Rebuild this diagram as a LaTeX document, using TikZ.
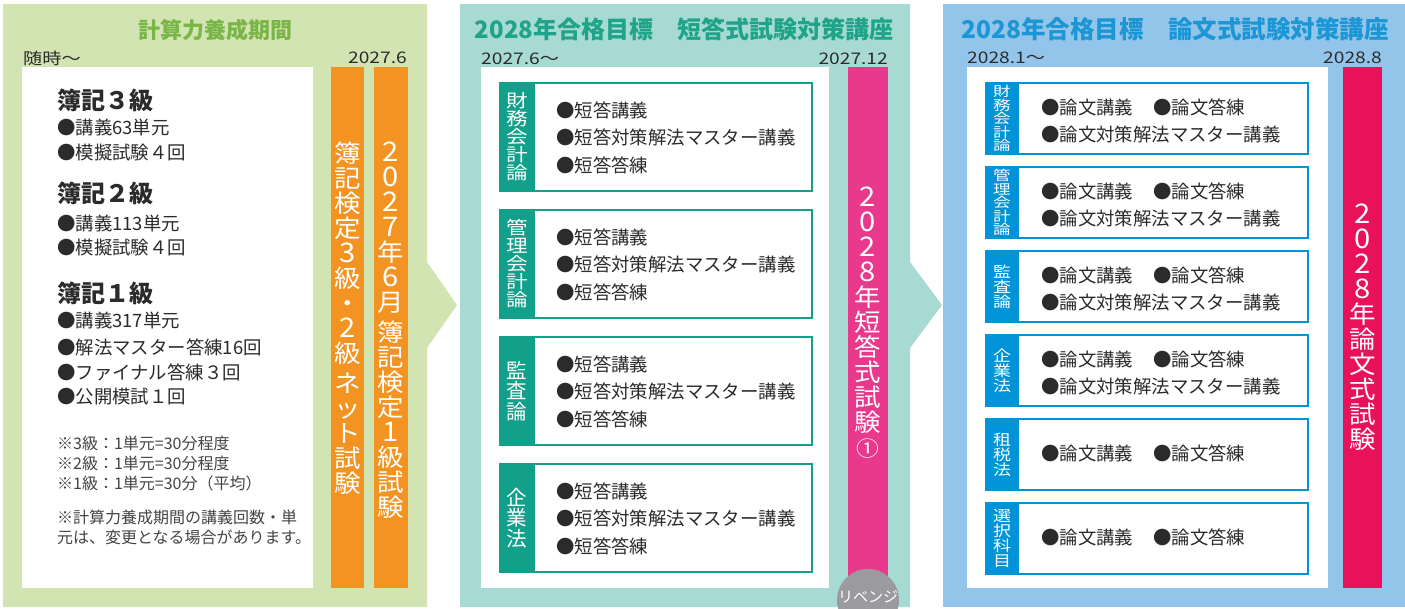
\documentclass[tikz,border=0pt]{standalone}
\usepackage{fontspec}
\setmainfont{Noto Sans CJK JP}
\newfontfamily\lblA{Noto Sans CJK JP}[FakeStretch=1.2]
\newfontfamily\lblB{Noto Sans CJK JP}[FakeStretch=1.3]
\newfontfamily\numfont{Noto Sans CJK JP}[FakeStretch=1.2]
\newfontfamily\barfont{Noto Sans CJK JP}[FakeStretch=1.08]
\definecolor{lgbg}{HTML}{D2E4B2}
\definecolor{lgtxt}{HTML}{7AB547}
\definecolor{orng}{HTML}{F39422}
\definecolor{mdbg}{HTML}{A6DAD3}
\definecolor{mdtxt}{HTML}{1FA48A}
\definecolor{mteal}{HTML}{12A08A}
\definecolor{pnk}{HTML}{E9398D}
\definecolor{gcirc}{HTML}{9B9B9F}
\definecolor{rtbg}{HTML}{92C5E9}
\definecolor{rttxt}{HTML}{1C96D4}
\definecolor{rblue}{HTML}{0093D8}
\definecolor{rred}{HTML}{E9125A}
\definecolor{txt}{HTML}{2B2B2B}
\definecolor{ntxt}{HTML}{444444}
\newcommand{\bigd}[1]{{\fontsize{27}{25}\selectfont #1}}
\AtBeginDocument{\lineskiplimit=-100pt\relax\lineskip=0pt\relax}
\begin{document}
\begin{tikzpicture}[x=1pt,y=-1pt,
  hdr/.style={inner sep=0, font=\fontsize{24}{24}\selectfont\bfseries},
  datel/.style={inner sep=0, text=txt, font=\numfont\fontsize{16}{16}\selectfont},
  item/.style={anchor=west, inner sep=0, text=txt, font=\fontsize{18.4}{18.4}\selectfont},
  lhead/.style={anchor=west, inner sep=0, text=txt, font=\fontsize{24}{24}\selectfont\bfseries},
  note/.style={anchor=west, inner sep=0, text=ntxt, font=\fontsize{16}{16}\selectfont},
  vtxt/.style={align=center, inner sep=0, text=white, font=\barfont\fontsize{24.5}{25}\selectfont},
  mlabA/.style={align=center, inner sep=0, text=white, font=\lblA\fontsize{18}{18}\selectfont},
  mlabB/.style={align=center, inner sep=0, text=white, font=\fontsize{20.5}{20.5}\selectfont},
  rlabA/.style={align=center, inner sep=0, text=white, font=\lblB\fontsize{13.5}{13.5}\selectfont},
  rlabB/.style={align=center, inner sep=0, text=white, font=\lblA\fontsize{15}{15}\selectfont},
  mbox/.style={draw=mteal, line width=2pt, fill=white},
  rbox/.style={draw=rblue, line width=2.4pt, fill=white}]
\useasboundingbox (0,0) rectangle (1405,608);
\begin{scope}
\clip (0,0) rectangle (1405,608);
% ---- left panel
\fill[lgbg] (3,4) -- (427,4) -- (427,262) -- (457,305) -- (427,348) -- (427,607) -- (3,607) -- cycle;
\fill[white] (22,67) rectangle (313,588);
\fill[orng] (331,67) rectangle (364,588);
\fill[orng] (374,67) rectangle (408,588);
\node[hdr, text=lgtxt, font=\fontsize{22}{22}\selectfont\bfseries] (h1) at (215,30) {計算力養成期間};
\node[datel, anchor=west] (d1a) at (23,58) {随時〜};
\node[datel, anchor=east] (d1b) at (407,58) {2027.6};
\node[lhead] (k3) at (57,100) {簿記３級};
\node[item] (k3a) at (57,127) {●講義63単元};
\node[item] (k3b) at (57,153) {●模擬試験４回};
\node[lhead] (k2) at (57,193) {簿記２級};
\node[item] (k2a) at (57,223) {●講義113単元};
\node[item] (k2b) at (57,248) {●模擬試験４回};
\node[lhead] (k1) at (57,293) {簿記１級};
\node[item] (k1a) at (57,320) {●講義317単元};
\node[item] (k1b) at (57,347) {●解法マスター答練16回};
\node[item] (k1c) at (57,372) {●ファイナル答練３回};
\node[item] (k1d) at (57,397) {●公開模試１回};
\node[note] (n1) at (57,443) {※3級：1単元=30分程度};
\node[note] (n2) at (57,463) {※2級：1単元=30分程度};
\node[note] (n3) at (57,483) {※1級：1単元=30分（平均）};
\node[note] (n4) at (57,517) {※計算力養成期間の講義回数・単};
\node[note] (n5) at (57,537) {元は、変更となる場合があります。};
\node[vtxt] (b1) at (347.5,318) {簿\\記\\検\\定\\{}\bigd{3}\\級\\・\\{}\bigd{2}\\級\\[5pt]ネ\\ッ\\ト\\試\\験};
\node[vtxt] (b2) at (391,330) {{}\bigd{2}\\{}\bigd{0}\\{}\bigd{2}\\{}\bigd{7}\\年\\{}\bigd{6}\\月\\[5pt]簿\\記\\検\\定\\{}\bigd{1}\\級\\試\\験};
% ---- middle panel
\fill[mdbg] (460,4) -- (910,4) -- (910,262) -- (942,305) -- (910,348) -- (910,607) -- (460,607) -- cycle;
\fill[white] (481,67) rectangle (829,588);
\fill[pnk] (848,67) rectangle (888,600);
\node[hdr, text=mdtxt] (h2) at (684,29) {2028年合格目標　短答式試験対策講座};
\node[datel, anchor=west] (d2a) at (481,59) {2027.6〜};
\node[datel, anchor=east] (d2b) at (888,59) {2027.12};
\foreach \t/\lab/\st [count=\i] in {82/{財\\務\\会\\計\\論}/mlabA, 209/{管\\理\\会\\計\\論}/mlabA, 336/{監\\査\\論}/mlabB, 463/{企\\業\\法}/mlabB} {
  \draw[mbox] (500,\t+1) rectangle (812,\t+109);
  \fill[mteal] (499,\t) rectangle (535,\t+110);
  \node[\st] (ml\i) at (517,\t+55) {\lab};
  \node[item] (ma\i) at (556,\t+28) {●短答講義};
  \node[item] (mb\i) at (556,\t+55.5) {●短答対策解法マスター講義};
  \node[item] (mc\i) at (556,\t+83) {●短答答練};
}
\node[vtxt] (pk) at (868,323) {{}\bigd{2}\\{}\bigd{0}\\{}\bigd{2}\\{}\bigd{8}\\年\\短\\答\\式\\試\\験\\{\fontsize{21}{21}\selectfont ①}};
\fill[gcirc] (868,600) circle (31pt);
\node[inner sep=0, text=white, font=\fontsize{15}{15}\selectfont] (rv) at (868,597) {リベンジ};
% ---- right panel
\fill[rtbg] (943,4) rectangle (1405,607);
\fill[white] (967,67) rectangle (1328,588);
\fill[rred] (1343,67) rectangle (1382,588);
\node[hdr, text=rttxt, font=\fontsize{24.5}{24.5}\selectfont\bfseries] (h3) at (1175,29) {2028年合格目標　論文式試験対策講座};
\node[datel, anchor=west] (d3a) at (967,58) {2028.1〜};
\node[datel, anchor=east] (d3b) at (1382,58) {2028.8};
\foreach \t/\lab/\st/\two [count=\i] in {82/{財\\務\\会\\計\\論}/rlabA/1, 166/{管\\理\\会\\計\\論}/rlabA/1, 250/{監\\査\\論}/rlabB/1, 334/{企\\業\\法}/rlabB/1, 418/{租\\税\\法}/rlabB/0, 502/{選\\択\\科\\目}/rlabB/0} {
  \draw[rbox] (986.2,\t+1.2) rectangle (1307.8,\t+71.8);
  \fill[rblue] (985,\t) rectangle (1019,\t+73);
  \node[\st] (rl\i) at (1002,\t+36.5) {\lab};
  \ifnum\two=1
    \node[item] (ra\i) at (1041,\t+25) {●論文講義};
    \node[item] (rb\i) at (1153,\t+25) {●論文答練};
    \node[item] (rc\i) at (1041,\t+52) {●論文対策解法マスター講義};
  \else
    \node[item] (ra\i) at (1041,\t+35.5) {●論文講義};
    \node[item] (rb\i) at (1153,\t+35.5) {●論文答練};
  \fi
}
\node[vtxt] (rd) at (1362.5,327) {{}\bigd{2}\\{}\bigd{0}\\{}\bigd{2}\\{}\bigd{8}\\年\\論\\文\\式\\試\\験};
\end{scope}
\end{tikzpicture}
\end{document}
